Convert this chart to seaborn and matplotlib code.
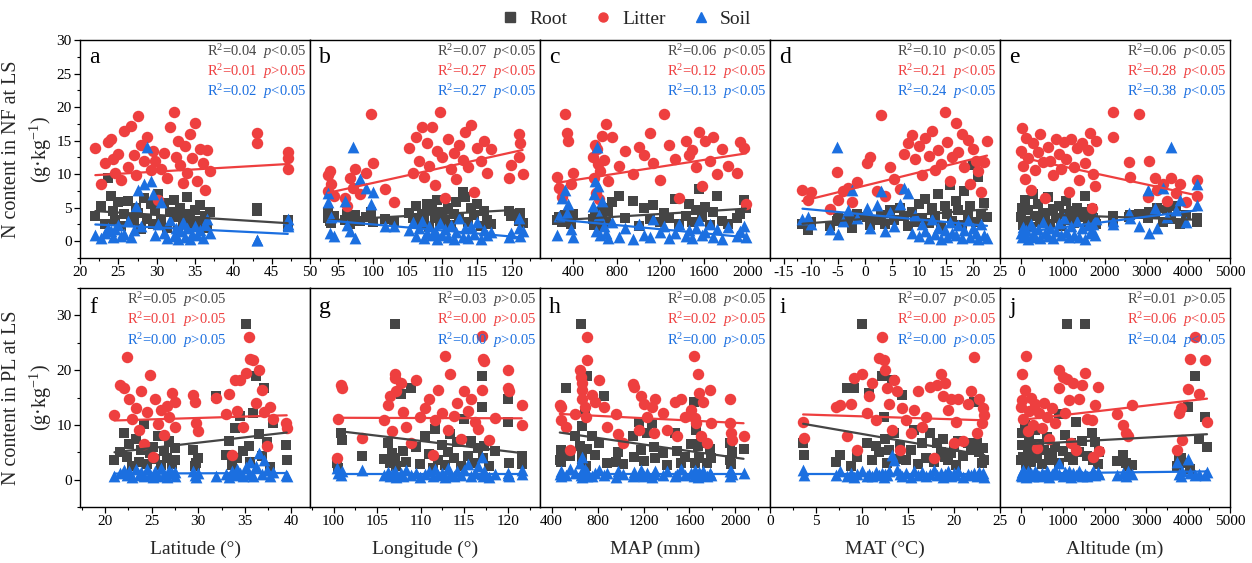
import numpy as np
import matplotlib
matplotlib.use("Agg")
import matplotlib.pyplot as plt
from matplotlib.lines import Line2D
from matplotlib.ticker import MultipleLocator
import seaborn as sns

# ---------------- data ----------------
series_names = ["Root", "Litter", "Soil"]

# (a) NF vs latitude
a_lat = [22.0, 22.8, 23.2, 23.6, 24.0, 24.3, 24.6, 25.0, 25.4, 25.8,
         26.2, 26.6, 27.0, 27.3, 27.6, 28.0, 28.4, 28.8, 29.2, 29.5,
         29.8, 30.2, 30.6, 31.0, 31.4, 31.8, 32.2, 32.5, 32.8, 33.1,
         33.4, 33.7, 34.0, 34.3, 34.6, 35.0, 35.3, 35.6, 36.0, 36.3,
         36.6, 37.0, 43.1, 43.1, 47.1, 47.1, 47.1]
a_root = [3.8, 5.2, 2.5, 9.4, 6.8, 4.5, 3.1, 5.8, 2.2, 4.0,
          6.0, 3.5, 2.8, 5.0, 4.2, 1.8, 6.5, 3.3, 5.5, 2.5,
          4.8, 7.0, 3.0, 5.7, 2.0, 4.4, 6.2, 3.6, 1.5, 5.0,
          2.7, 4.1, 6.6, 3.2, 2.1, 4.6, 3.0, 5.4, 2.4, 3.7,
          2.0, 4.3, 4.9, 4.5, 3.1, 2.1, 2.7]
a_litter = [13.9, 8.5, 11.6, 14.8, 15.2, 12.3, 10.2, 13.0, 9.1, 16.5,
            11.0, 17.2, 12.8, 9.8, 18.7, 14.3, 11.9, 15.6, 10.6, 13.5,
            12.0, 6.2, 10.8, 13.2, 9.4, 17.0, 19.3, 12.6, 15.0, 11.3,
            8.7, 14.2, 10.1, 16.0, 12.4, 17.6, 9.0, 13.7, 11.7, 7.6,
            13.6, 10.5, 16.1, 14.7, 13.3, 12.4, 10.8]
a_soil = [0.9, 0.5, 1.2, 2.0, 1.5, 0.6, 1.8, 2.4, 0.8, 1.1,
          3.0, 0.7, 1.6, 5.2, 7.6, 2.2, 8.6, 14.1, 9.0, 7.0,
          0.9, 2.6, 5.8, 1.3, 0.5, 3.1, 0.8, 2.0, 0.4, 1.5,
          2.8, 0.6, 1.9, 0.3, 1.1, 2.3, 0.9, 1.6, 0.5, 2.6,
          3.3, 1.2, 0.2, 0.2, 3.3, 2.6, 2.2]

# (b) NF vs longitude
b_lon = [93.6, 93.6, 93.8, 94.0, 94.5, 96.0, 96.3, 96.8, 97.2, 97.5,
         98.2, 99.0, 99.8, 100.0, 101.7, 103.0, 105.2, 105.8, 106.2, 106.7,
         107.0, 107.4, 107.8, 108.1, 108.5, 108.9, 109.2, 109.6, 110.0, 110.4,
         110.8, 111.2, 111.6, 112.0, 112.4, 112.9, 113.3, 113.7, 114.1, 114.5,
         115.0, 115.5, 116.0, 116.4, 116.9, 119.6, 119.8, 121.0, 121.0, 121.2,
         121.5]
b_root = [3.5, 4.3, 3.0, 2.7, 3.8, 3.2, 4.0, 2.6, 3.4, 3.9,
          3.0, 3.6, 4.4, 2.8, 3.3, 3.0, 4.2, 3.4, 5.3, 2.5,
          4.0, 3.1, 5.6, 2.1, 4.7, 3.5, 6.1, 2.9, 4.4, 3.2,
          5.0, 2.4, 4.1, 5.8, 3.6, 7.3, 6.6, 2.8, 4.9, 3.9,
          5.5, 2.3, 4.5, 3.1, 2.6, 4.5, 3.8, 3.0, 3.8, 4.2,
          2.7]
b_litter = [7.5, 9.8, 10.5, 8.5, 6.8, 6.5, 5.3, 9.4, 8.0, 10.8,
            7.1, 10.2, 18.9, 11.6, 7.8, 5.9, 13.9, 10.2, 15.6, 12.0,
            17.1, 9.6, 14.7, 11.2, 17.0, 8.4, 13.4, 19.3, 12.6, 6.4,
            15.3, 10.7, 13.1, 9.3, 14.3, 12.1, 16.3, 11.0, 17.4, 7.4,
            13.9, 11.9, 15.0, 10.2, 13.8, 9.5, 11.3, 16.0, 12.5, 14.7,
            10.0]
b_soil = [7.2, 5.8, 1.2, 3.6, 0.8, 6.0, 2.4, 1.5, 14.0, 0.5,
          9.3, 8.0, 5.5, 7.4, 2.3, 2.3, 1.6, 2.8, 0.8, 1.9,
          3.0, 0.5, 1.3, 2.2, 0.9, 1.5, 0.4, 2.7, 1.0, 1.8,
          0.6, 2.4, 0.3, 1.4, 3.4, 0.7, 1.9, 0.5, 2.2, 1.1,
          2.9, 0.4, 1.6, 0.9, 1.4, 0.6, 1.3, 3.4, 2.0, 0.8,
          1.5]

# (c) NF vs MAP
c_map = [255, 270, 300, 330, 350, 360, 380, 400, 580, 590,
         600, 610, 620, 630, 640, 650, 665, 680, 700, 720,
         760, 820, 880, 950, 1000, 1050, 1100, 1130, 1200, 1230,
         1280, 1330, 1370, 1430, 1460, 1490, 1520, 1550, 1580, 1610,
         1650, 1680, 1720, 1760, 1820, 1900, 1930, 1960, 1980]
c_root = [3.2, 3.6, 2.8, 3.9, 3.0, 3.4, 2.6, 4.1, 3.3, 2.4,
          4.0, 3.1, 2.7, 3.6, 4.4, 2.2, 3.8, 5.0, 2.9, 4.5,
          5.9, 6.8, 3.5, 6.0, 2.3, 4.9, 3.3, 5.4, 2.8, 4.2,
          3.5, 6.3, 2.6, 3.8, 5.6, 2.9, 4.6, 7.8, 3.6, 5.1,
          2.4, 4.3, 6.7, 3.0, 2.6, 3.5, 4.0, 6.2, 5.0]
c_litter = [9.6, 7.9, 6.6, 18.9, 16.1, 14.9, 8.5, 10.2, 12.6, 9.4,
            14.3, 7.2, 13.8, 11.5, 6.3, 10.4, 15.7, 12.1, 17.5, 9.0,
            15.5, 11.2, 13.4, 10.0, 14.0, 12.8, 16.1, 11.6, 9.1, 19.0,
            14.3, 12.3, 6.4, 15.0, 12.8, 13.6, 11.1, 16.3, 8.2, 14.9,
            12.0, 15.6, 10.0, 13.7, 11.2, 10.2, 14.8, 13.9, 5.6]
c_soil = [1.0, 3.7, 6.4, 7.6, 4.2, 5.6, 1.8, 0.6, 5.2, 7.0,
          9.0, 1.5, 14.0, 8.3, 3.9, 0.9, 6.0, 2.3, 1.2, 0.5,
          2.8, 0.7, 1.9, 0.4, 2.5, 1.0, 0.6, 3.3, 1.4, 2.2,
          0.5, 1.2, 2.6, 0.8, 1.7, 0.5, 2.0, 3.2, 0.9, 1.4,
          2.5, 0.6, 1.8, 0.4, 2.1, 0.8, 1.5, 2.3, 0.6]

# (d) NF vs MAT
d_mat = [-11.5, -10.5, -10.0, -6.5, -5.2, -5.0, -4.0, -3.0, -2.3, -1.5,
         0.5, 1.0, 2.3, 3.0, 3.7, 4.6, 5.4, 6.5, 7.3, 8.0,
         8.8, 9.3, 10.0, 10.6, 11.2, 11.8, 12.4, 13.0, 13.6, 14.1,
         14.8, 15.2, 15.7, 16.2, 16.8, 17.3, 17.9, 18.4, 19.0, 19.5,
         20.0, 20.5, 21.0, 21.4, 22.0, 22.6]
d_root = [2.5, 1.6, 2.9, 2.2, 3.0, 3.5, 2.8, 3.3, 2.0, 4.0,
          3.6, 2.4, 3.1, 3.9, 2.6, 4.7, 3.2, 5.0, 3.8, 2.2,
          4.4, 2.9, 5.6, 3.4, 6.3, 2.7, 4.9, 3.7, 7.0, 2.3,
          5.3, 4.1, 8.4, 3.0, 6.0, 4.6, 2.4, 7.5, 3.8, 5.2,
          11.3, 2.9, 9.6, 4.0, 5.7, 3.6]
d_litter = [7.6, 6.2, 7.3, 4.8, 10.3, 6.1, 7.5, 8.0, 5.9, 8.9,
            11.6, 12.6, 7.5, 18.8, 6.7, 11.1, 9.3, 7.8, 13.0, 14.6,
            15.8, 12.2, 14.2, 9.8, 15.4, 12.7, 16.4, 10.6, 13.6, 11.5,
            19.3, 14.8, 9.0, 12.5, 17.7, 13.3, 16.0, 11.0, 15.1, 8.5,
            13.8, 12.0, 10.4, 7.4, 11.8, 14.9]
d_soil = [3.3, 3.6, 2.5, 1.8, 14.0, 1.1, 3.0, 4.6, 7.7, 3.4,
          4.9, 2.0, 5.4, 7.5, 1.5, 4.3, 2.3, 5.6, 8.0, 7.2,
          1.2, 3.9, 0.8, 2.6, 1.5, 0.5, 3.3, 1.1, 2.0, 0.4,
          1.7, 0.6, 2.8, 1.3, 0.9, 2.4, 0.5, 1.6, 3.2, 0.7,
          2.0, 1.2, 0.4, 2.6, 0.9, 0.5]

# (e) NF vs altitude
e_alt = [0, 30, 60, 90, 130, 180, 230, 290, 340, 400,
         460, 520, 580, 640, 700, 760, 830, 900, 960, 1020,
         1080, 1140, 1200, 1270, 1330, 1400, 1460, 1530, 1600, 1660,
         1720, 1780, 1800, 1700, 2200, 2210, 2590, 2600, 2830, 3070,
         3050, 3200, 3250, 3400, 3500, 3600, 3700, 3800, 3950, 4200,
         4200]
e_root = [3.6, 5.0, 2.4, 6.2, 3.0, 4.6, 2.1, 7.0, 3.8, 5.6,
          2.8, 4.2, 3.3, 6.6, 2.5, 4.8, 3.5, 5.3, 2.2, 4.0,
          6.0, 3.1, 4.5, 2.7, 5.0, 3.6, 4.4, 6.8, 2.9, 4.1,
          3.4, 3.0, 2.5, 4.8, 3.0, 3.7, 3.6, 3.9, 4.0, 4.4,
          3.5, 4.2, 5.0, 2.8, 4.6, 3.3, 5.2, 2.6, 3.9, 3.4,
          2.9]
e_litter = [13.5, 16.9, 11.2, 9.3, 15.4, 12.4, 7.7, 14.6, 10.6, 13.3,
            16.0, 11.8, 6.5, 14.1, 12.0, 9.8, 15.2, 13.0, 10.8, 14.8,
            12.3, 7.4, 15.3, 11.1, 13.9, 9.2, 14.7, 11.6, 13.6, 16.1,
            10.0, 8.2, 14.9, 4.9, 19.3, 15.6, 11.8, 9.6, 18.9, 11.9,
            6.6, 9.5, 7.7, 8.6, 6.0, 9.4, 7.2, 8.5, 5.9, 9.1,
            6.8]
e_soil = [1.2, 0.6, 2.1, 0.9, 1.6, 0.4, 2.5, 1.1, 0.7, 1.8,
          0.5, 2.8, 1.3, 0.8, 2.0, 0.5, 1.5, 2.7, 0.9, 3.4,
          1.4, 0.6, 2.2, 1.0, 3.0, 0.7, 1.9, 0.4, 2.4, 1.2,
          2.6, 1.0, 3.3, 1.5, 3.0, 2.5, 4.2, 3.4, 2.2, 1.3,
          7.6, 5.0, 2.0, 8.0, 3.6, 14.0, 4.7, 6.2, 2.9, 8.5,
          5.4]

# (f) PL vs latitude
f_lat = [21.0, 21.6, 22.0, 22.3, 22.6, 22.9, 23.3, 23.6, 23.9, 24.2,
         24.5, 24.8, 25.1, 25.4, 25.7, 26.0, 26.3, 26.6, 26.9, 27.2,
         27.5, 27.5, 29.4, 29.6, 29.8, 30.0, 31.9, 33.0, 33.3, 33.6,
         33.9, 34.2, 34.5, 34.8, 35.1, 35.4, 35.6, 35.9, 36.2, 36.5,
         36.8, 37.1, 37.4, 37.7, 38.0, 39.4, 39.5]
f_root = [3.5, 5.0, 8.5, 4.2, 6.5, 2.4, 7.4, 3.3, 5.5, 10.2,
          2.9, 4.8, 6.0, 3.8, 8.0, 2.6, 5.2, 4.0, 7.0, 2.8,
          3.5, 5.8, 5.5, 2.5, 3.0, 4.0, 15.3, 4.5, 7.0, 2.7,
          9.5, 3.9, 11.6, 5.3, 28.5, 6.1, 3.2, 12.2, 18.9, 8.4,
          4.4, 16.7, 6.8, 2.3, 10.4, 6.4, 3.5]
f_litter = [11.8, 17.3, 16.8, 22.4, 14.8, 11.0, 13.0, 9.0, 16.2, 6.5,
            12.3, 19.2, 4.2, 14.8, 10.2, 12.8, 8.1, 13.5, 11.5, 15.9,
            9.6, 14.2, 15.4, 14.2, 10.3, 8.8, 15.0, 11.9, 15.7, 4.5,
            18.2, 12.6, 18.2, 9.7, 19.4, 26.1, 22.1, 21.8, 14.0, 20.0,
            16.4, 12.4, 6.1, 13.2, 11.0, 10.3, 9.4]
f_soil = [0.6, 1.2, 1.8, 0.8, 1.5, 0.5, 2.0, 0.9, 1.4, 0.6,
          1.9, 1.1, 0.4, 1.6, 0.7, 2.2, 1.0, 0.5, 1.8, 1.2,
          0.6, 1.4, 1.5, 0.8, 0.5, 1.2, 0.6, 1.0, 0.5, 1.6,
          0.9, 2.0, 1.3, 0.6, 2.3, 1.1, 3.2, 0.7, 2.5, 4.8,
          1.0, 3.6, 1.8, 0.6, 1.4, 0.8, 0.6]

# (g) PL vs longitude
g_lon = [100.4, 100.5, 100.9, 101.0, 103.3, 105.8, 106.2, 106.5, 106.7, 107.0,
         107.0, 107.2, 107.7, 108.0, 108.3, 108.9, 109.5, 109.9, 110.5, 111.0,
         111.4, 111.7, 112.0, 112.4, 112.8, 113.1, 113.4, 113.8, 114.2, 114.6,
         115.0, 115.4, 115.8, 116.2, 116.6, 117.0, 117.1, 117.2, 117.3, 117.9,
         118.5, 120.0, 120.0, 120.1, 121.6, 121.6]
g_root = [3.0, 2.2, 8.5, 7.3, 4.4, 3.8, 6.7, 3.0, 4.8, 28.5,
          4.0, 2.4, 15.6, 5.2, 3.3, 16.7, 6.0, 2.8, 7.9, 4.6,
          2.2, 9.2, 3.6, 6.3, 2.7, 5.0, 8.3, 3.9, 6.8, 2.5,
          11.0, 4.3, 7.0, 3.1, 5.8, 13.3, 18.9, 4.0, 6.2, 2.4,
          5.3, 14.7, 10.6, 3.1, 2.8, 4.3]
g_litter = [3.9, 11.0, 17.3, 16.8, 7.6, 10.9, 13.6, 15.2, 8.8, 19.3,
            18.5, 16.1, 17.7, 12.4, 9.7, 6.7, 18.2, 11.5, 13.0, 14.8,
            4.5, 10.8, 16.4, 12.2, 22.5, 9.0, 19.3, 11.6, 14.0, 7.5,
            16.1, 12.6, 14.8, 10.6, 9.3, 16.4, 26.2, 22.1, 21.7, 7.3,
            11.3, 20.0, 16.7, 16.1, 13.6, 10.0]
g_soil = [2.1, 1.3, 0.8, 1.6, 1.8, 0.9, 1.4, 0.6, 1.1, 0.8,
          1.5, 0.5, 1.2, 0.7, 1.8, 0.9, 1.3, 0.4, 1.0, 1.6,
          0.6, 1.9, 0.8, 1.3, 0.5, 2.1, 1.0, 0.7, 1.5, 0.9,
          1.8, 2.8, 0.6, 1.2, 2.4, 4.2, 1.0, 0.7, 1.6, 0.5,
          1.1, 0.9, 1.3, 0.6, 1.7, 1.0]

# (h) PL vs MAP
h_map = [472, 480, 480, 530, 560, 600, 650, 660, 662, 665,
         668, 690, 700, 710, 712, 750, 780, 810, 860, 880,
         965, 980, 1020, 1110, 1120, 1160, 1180, 1200, 1230, 1270,
         1300, 1290, 1370, 1400, 1470, 1490, 1530, 1560, 1610, 1640,
         1645, 1660, 1670, 1680, 1700, 1720, 1750, 1780, 1790, 1950,
         1955, 1960, 1970, 2070]
h_root = [3.6, 3.3, 5.5, 16.7, 4.3, 8.0, 6.1, 28.5, 3.0, 9.8,
          4.8, 12.3, 2.5, 18.9, 5.6, 7.9, 4.5, 6.6, 15.3, 3.0,
          3.3, 5.0, 2.8, 7.9, 4.2, 10.6, 5.5, 3.4, 8.5, 10.3,
          3.9, 6.0, 4.8, 2.6, 8.5, 5.2, 3.1, 4.2, 6.5, 14.2,
          3.0, 9.0, 6.1, 4.0, 7.4, 6.7, 3.0, 5.6, 4.0, 3.6,
          6.7, 2.8, 5.0, 5.6]
h_litter = [13.6, 13.3, 10.9, 9.7, 5.5, 12.0, 20.0, 18.8, 17.6, 16.4,
            14.8, 13.3, 11.5, 26.1, 21.9, 15.5, 14.2, 18.2, 13.3, 9.7,
            12.0, 8.4, 6.7, 17.5, 17.0, 9.1, 15.2, 13.9, 11.5, 13.2,
            14.8, 8.5, 12.2, 9.1, 14.2, 7.9, 14.8, 11.4, 12.7, 22.5,
            11.2, 10.3, 19.3, 15.9, 7.9, 14.2, 6.7, 16.4, 10.3, 14.7,
            10.3, 8.5, 7.3, 7.9]
h_soil = [1.1, 0.6, 1.6, 0.9, 2.0, 1.3, 3.0, 0.8, 4.2, 1.5,
          0.5, 1.9, 1.0, 0.7, 1.4, 0.6, 1.2, 1.7, 0.8, 1.3,
          0.5, 1.6, 1.0, 0.6, 1.4, 0.9, 1.8, 0.7, 1.2, 0.5,
          1.6, 1.0, 0.8, 1.5, 0.6, 1.1, 1.9, 0.8, 1.3, 0.6,
          1.7, 1.0, 0.5, 1.4, 0.9, 1.5, 0.7, 1.2, 0.8, 1.5,
          0.6, 1.6, 1.0, 1.2]

# (i) PL vs MAT
i_mat = [3.6, 3.7, 7.2, 7.6, 8.4, 8.8, 9.1, 9.5, 10.0, 10.5,
         10.8, 11.1, 11.5, 11.8, 12.2, 12.4, 12.5, 12.7, 12.9, 13.3,
         13.5, 13.8, 14.1, 14.4, 14.8, 15.3, 15.7, 16.1, 16.5, 17.0,
         17.4, 17.8, 18.2, 18.6, 18.8, 19.0, 19.4, 19.7, 20.0, 20.2,
         20.4, 21.0, 21.5, 21.8, 22.2, 22.5, 22.7, 23.0, 23.2, 23.3]
i_root = [6.7, 4.5, 3.3, 4.5, 16.7, 2.4, 16.7, 4.2, 28.5, 6.7,
          15.8, 3.5, 6.1, 5.0, 18.9, 11.5, 7.5, 3.0, 5.5, 18.2,
          8.5, 3.8, 6.2, 15.5, 3.6, 5.4, 9.0, 2.8, 6.7, 4.0,
          8.5, 3.2, 6.7, 5.0, 7.5, 4.2, 3.5, 4.8, 6.0, 2.6,
          7.0, 4.4, 6.7, 5.5, 14.2, 6.7, 5.0, 3.0, 5.8, 3.6]
i_litter = [10.6, 7.6, 13.3, 13.6, 7.9, 13.9, 18.5, 5.5, 19.3, 12.1,
            15.2, 17.6, 10.9, 22.3, 26.1, 21.8, 20.0, 16.7, 13.9, 9.1,
            18.2, 16.1, 5.5, 13.0, 10.9, 8.5, 12.7, 16.1, 9.7, 11.5,
            17.0, 3.9, 17.3, 19.3, 15.2, 17.6, 12.7, 14.8, 6.7, 10.6,
            14.8, 7.0, 13.9, 16.2, 22.4, 8.5, 14.8, 10.3, 13.0, 11.8]
i_soil = [1.8, 0.8, 0.9, 1.5, 0.6, 1.2, 0.5, 1.0, 1.6, 0.7,
          1.1, 0.6, 1.4, 0.9, 1.3, 0.5, 1.0, 0.8, 1.5, 4.5,
          3.5, 1.8, 1.0, 0.6, 1.2, 0.5, 1.6, 0.9, 1.4, 0.6,
          1.1, 1.7, 0.8, 1.3, 0.5, 1.0, 1.5, 0.7, 1.2, 0.9,
          1.6, 0.5, 1.1, 0.8, 1.3, 0.6, 1.4, 0.9, 1.2, 0.5]

# (j) PL vs altitude
j_alt = [0, 20, 30, 60, 100, 130, 170, 200, 240, 290,
         340, 390, 440, 500, 560, 620, 680, 750, 820, 900,
         920, 1000, 1060, 1100, 1150, 1200, 1250, 1320, 1400, 1450,
         1530, 1580, 1700, 1720, 1780, 1850, 1860, 2300, 2450, 2520,
         2550, 2650, 3740, 3780, 3820, 3850, 4000, 4050, 4160, 4250,
         4400, 4450]
j_root = [3.5, 6.4, 8.5, 4.2, 10.0, 2.6, 5.8, 7.2, 3.3, 5.0,
          9.0, 4.0, 6.5, 2.8, 5.4, 7.8, 3.6, 4.8, 6.0, 12.0,
          3.0, 5.2, 8.2, 28.5, 4.2, 6.6, 3.6, 10.5, 5.0, 7.0,
          28.5, 4.4, 8.5, 3.6, 6.8, 2.8, 5.0, 3.4, 4.5, 3.0,
          2.4, 2.6, 2.4, 3.6, 4.0, 3.0, 13.2, 2.0, 18.9, 7.4,
          11.4, 6.0]
j_litter = [13.3, 14.5, 19.3, 11.0, 16.4, 22.5, 8.8, 12.6, 15.0, 10.0,
            13.8, 5.8, 12.2, 9.4, 14.0, 11.4, 7.5, 13.0, 10.3, 20.0,
            16.7, 18.8, 12.1, 18.3, 14.5, 6.7, 17.6, 5.5, 14.8, 17.3,
            19.4, 11.0, 10.9, 4.2, 13.6, 17.0, 5.2, 12.0, 10.0, 8.5,
            7.9, 13.6, 5.5, 12.1, 13.0, 7.3, 16.5, 22.1, 26.1, 15.6,
            21.8, 10.5]
j_soil = [0.9, 1.4, 0.6, 1.8, 1.1, 0.5, 1.5, 0.8, 1.2, 0.6,
          1.6, 1.0, 0.7, 1.3, 0.9, 1.5, 0.5, 1.1, 1.8, 1.0,
          3.0, 0.6, 1.4, 0.8, 1.6, 0.5, 1.2, 0.9, 1.5, 0.6,
          1.0, 0.7, 1.3, 1.6, 0.8, 1.4, 1.0, 0.8, 1.3, 0.6,
          1.5, 1.0, 3.2, 1.0, 0.6, 1.6, 3.8, 1.2, 0.8, 1.1,
          0.9, 1.4]

# fitted lines (intercept, slope) for Root, Litter, Soil
a_fit = [(6.08, -0.072), (8.40, 0.066), (3.73, -0.056)]
b_fit = [(-2.34, 0.0582), (-14.22, 0.229), (11.6, -0.0909)]
c_fit = [(2.85, 0.001012), (8.06, 0.002543), (3.63, -0.001532)]
d_fit = [(3.33, 0.0632), (8.28, 0.1985), (3.99, -0.075)]
e_fit = [(4.1, -0.000214), (12.5, -0.001345), (1.3, 0.000786)]
f_fit = [(0.91, 0.1946), (9.72, 0.0514), (0.99, 0.0054)]
g_fit = [(28.08, -0.191), (11.77, -0.0047), (1.1, 0.0)]
h_fit = [(10.02, -0.003004), (12.50, -0.001064), (1.1, 0.0)]
i_fit = [(11.25, -0.2908), (12.10, -0.0543), (1.1, 0.0)]
j_fit = [(6.4, 0.000426), (10.9, 0.000874), (1.1, 0.0000896)]

# statistics text
a_r2, a_p = ["0.04", "0.01", "0.02"], ["<", ">", "<"]
b_r2, b_p = ["0.07", "0.27", "0.27"], ["<", "<", "<"]
c_r2, c_p = ["0.06", "0.12", "0.13"], ["<", "<", "<"]
d_r2, d_p = ["0.10", "0.21", "0.24"], ["<", "<", "<"]
e_r2, e_p = ["0.06", "0.28", "0.38"], ["<", "<", "<"]
f_r2, f_p = ["0.05", "0.01", "0.00"], ["<", ">", ">"]
g_r2, g_p = ["0.03", "0.00", "0.00"], [">", ">", ">"]
h_r2, h_p = ["0.08", "0.02", "0.00"], ["<", ">", ">"]
i_r2, i_p = ["0.07", "0.00", "0.00"], ["<", ">", ">"]
j_r2, j_p = ["0.01", "0.06", "0.04"], [">", "<", "<"]

x_labels = ["Latitude (°)", "Longitude (°)", "MAP (mm)", "MAT (°C)", "Altitude (m)"]
y_labels = ["N content in NF at LS\n(g·kg$^{-1}$)", "N content in PL at LS\n(g·kg$^{-1}$)"]
panel_letters = ["a", "b", "c", "d", "e", "f", "g", "h", "i", "j"]

# ---------------- style ----------------
sns.set_theme(style="ticks")
plt.rcParams["font.family"] = ["Liberation Serif", "DejaVu Serif"]
plt.rcParams["mathtext.fontset"] = "custom"
plt.rcParams["mathtext.rm"] = "Liberation Serif"
plt.rcParams["mathtext.it"] = "Liberation Serif:italic"
plt.rcParams["axes.unicode_minus"] = False

colors = ["#454545", "#ee3f3f", "#1b6fe0"]
markers = ["s", "o", "^"]
sizes = [50, 68, 72]

panels = [
    (a_lat, a_root, a_litter, a_soil, a_fit, a_r2, a_p),
    (b_lon, b_root, b_litter, b_soil, b_fit, b_r2, b_p),
    (c_map, c_root, c_litter, c_soil, c_fit, c_r2, c_p),
    (d_mat, d_root, d_litter, d_soil, d_fit, d_r2, d_p),
    (e_alt, e_root, e_litter, e_soil, e_fit, e_r2, e_p),
    (f_lat, f_root, f_litter, f_soil, f_fit, f_r2, f_p),
    (g_lon, g_root, g_litter, g_soil, g_fit, g_r2, g_p),
    (h_map, h_root, h_litter, h_soil, h_fit, h_r2, h_p),
    (i_mat, i_root, i_litter, i_soil, i_fit, i_r2, i_p),
    (j_alt, j_root, j_litter, j_soil, j_fit, j_r2, j_p),
]
xlims = [(20, 50), (91, 124), (100, 2200), (-17.5, 25), (-500, 5000),
         (17.3, 42), (97.3, 123.7), (300, 2300), (0, 25), (-500, 5000)]
xmajor = [5, 5, 400, 5, 1000, 5, 5, 400, 5, 1000]

W, H = 1252, 563
fig = plt.figure(figsize=(W / 100, H / 100), dpi=100)
col_left = [80, 310, 540, 770, 1000]
col_w = 230
rows = [(40, 258), (288, 507)]

for k, (xv, rv, lv, sv, fit, r2, pp) in enumerate(panels):
    row, col = divmod(k, 5)
    top, bot = rows[row]
    ax = fig.add_axes([col_left[col] / W, 1 - bot / H, col_w / W, (bot - top) / H])
    xv = np.asarray(xv, dtype=float)
    n = min(len(xv), len(rv), len(lv), len(sv))
    xv = xv[:n]
    for j, yv in enumerate([rv, lv, sv]):
        sns.scatterplot(x=xv, y=np.asarray(yv[:n], dtype=float), ax=ax, marker=markers[j],
                        color=colors[j], s=sizes[j], linewidth=0, legend=False, zorder=2 + j)
    xs = np.array([xv.min(), xv.max()])
    for j, (b0, b1) in enumerate(fit):
        ax.plot(xs, b0 + b1 * xs, color=colors[j], lw=1.6, zorder=6)

    ax.set_xlim(*xlims[k])
    if row == 0:
        ax.set_ylim(-2.5, 30)
        ax.yaxis.set_major_locator(MultipleLocator(5))
        ax.yaxis.set_minor_locator(MultipleLocator(2.5))
    else:
        ax.set_ylim(-5, 35)
        ax.yaxis.set_major_locator(MultipleLocator(10))
        ax.yaxis.set_minor_locator(MultipleLocator(5))
    ax.xaxis.set_major_locator(MultipleLocator(xmajor[k]))
    ax.xaxis.set_minor_locator(MultipleLocator(xmajor[k] / 2))

    ax.tick_params(which="both", direction="out", top=False, right=False, colors="black")
    ax.tick_params(which="major", length=4, width=0.9, labelsize=11, pad=2)
    ax.tick_params(which="minor", length=2.5, width=0.8)
    if col != 0:
        ax.tick_params(axis="y", which="both", left=False, labelleft=False)
    else:
        ax.set_ylabel(y_labels[row], fontsize=14.5, linespacing=1.35)
        ax.yaxis.set_label_coords(-0.115, 0.5)
    for sp in ax.spines.values():
        sp.set_visible(True)
        sp.set_linewidth(1.0)
        sp.set_color("black")
    ax.set_xlabel(x_labels[col] if row == 1 else "", fontsize=14, labelpad=9)

    # panel letter
    ax.text(0.04, 0.895 if row == 0 else 0.885, panel_letters[k], transform=ax.transAxes,
            fontsize=17, va="baseline", ha="left", color="black")
    # stats
    left_aligned = (k == 5)
    for j in range(3):
        txt = "R$^{2}$=" + r2[j] + "  $p$" + pp[j] + "0.05"
        ax.text(0.205 if left_aligned else 0.985, 0.946 - 0.092 * j, txt,
                transform=ax.transAxes, fontsize=10.5, color=colors[j],
                ha="left" if left_aligned else "right", va="center")

handles = [Line2D([], [], marker=markers[j], ls="", color=colors[j], markersize=6.5,
                  label=series_names[j]) for j in range(3)]
fig.legend(handles=handles, loc="center", bbox_to_anchor=(0.5, 1 - 19 / H), ncol=3,
           frameon=False, fontsize=14, handletextpad=0.5, columnspacing=1.3,
           handlelength=1.0)

fig.savefig("out.png", dpi=100)
